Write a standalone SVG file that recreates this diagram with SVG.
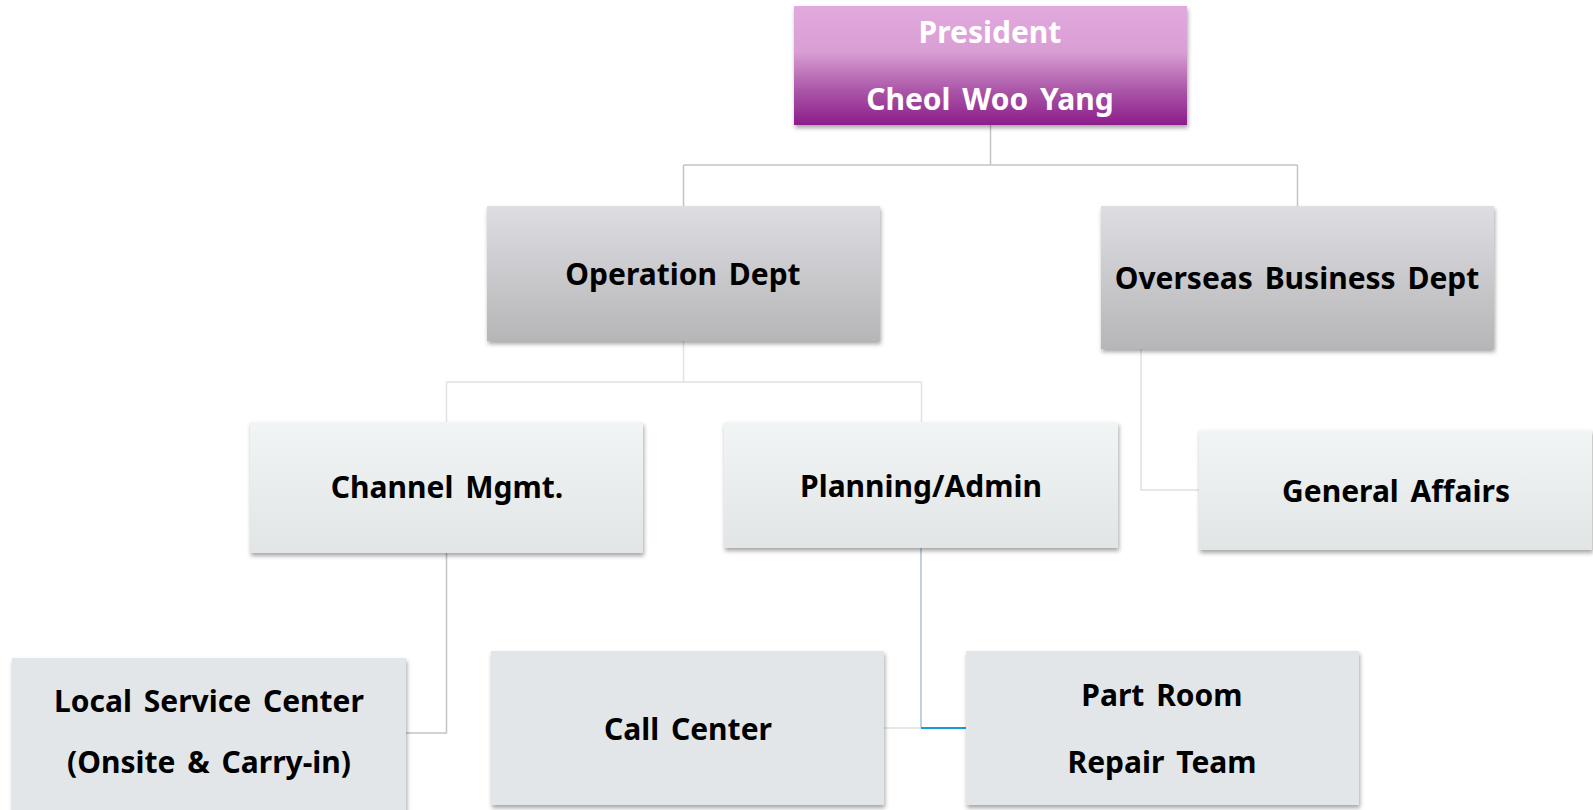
<svg xmlns="http://www.w3.org/2000/svg" width="1593" height="810" viewBox="0 0 1593 810">
<defs>
<linearGradient id="gPres" x1="0" y1="0" x2="0" y2="1">
<stop offset="0" stop-color="#e2a9de"/>
<stop offset="0.38" stop-color="#d99fd5"/>
<stop offset="0.72" stop-color="#a954a6"/>
<stop offset="1" stop-color="#8e1c8b"/>
</linearGradient>
<linearGradient id="gDept" x1="0" y1="0" x2="0" y2="1">
<stop offset="0" stop-color="#dedde2"/>
<stop offset="1" stop-color="#b6b6b8"/>
</linearGradient>
<linearGradient id="gTeam" x1="0" y1="0" x2="0" y2="1">
<stop offset="0" stop-color="#f1f5f5"/>
<stop offset="1" stop-color="#e2e5e6"/>
</linearGradient>
<filter id="sh" x="-5%" y="-10%" width="112%" height="130%">
<feDropShadow dx="1" dy="3" stdDeviation="2" flood-color="#000" flood-opacity="0.35"/>
</filter>
<style>
.t{font-family:"Noto Sans","Open Sans",sans-serif;font-weight:bold;font-size:30px;word-spacing:4px;text-anchor:middle;fill:#000}
.w{fill:#fff}
.c{fill:none;stroke:#c4c4c4;stroke-width:1.5}
.cl{fill:none;stroke:#dfe2e2;stroke-width:1.5}
</style>
</defs>
<g id="connectors">
<path class="c" d="M990.5 125V165M683.5 165H1297.5M683.5 165V206M1297.5 165V206"/>
<path class="cl" d="M683.5 341V382M446.5 382H921.5M446.5 382V422M921.5 382V422"/>
<path class="cl" d="M1141 349V490H1199"/>
<path class="c" d="M446.5 553V733H406"/>
<path fill="none" stroke="#a9c3d0" stroke-width="1.5" d="M921 548V728"/>
<path class="cl" d="M884 728H921"/>
<path fill="none" stroke="#1a9ad8" stroke-width="2" d="M921 728H966"/>
</g>
<g id="president">
<rect x="794" y="6" width="393" height="119" fill="url(#gPres)" filter="url(#sh)"/>
<text class="t w" x="990" y="43">President</text>
<text class="t w" x="990" y="110">Cheol Woo Yang</text>
</g>
<g id="operation">
<rect x="487" y="206" width="393" height="135" fill="url(#gDept)" filter="url(#sh)"/>
<text class="t" x="683" y="285">Operation Dept</text>
</g>
<g id="overseas">
<rect x="1101" y="206" width="393" height="143" fill="url(#gDept)" filter="url(#sh)"/>
<text class="t" x="1297" y="289">Overseas Business Dept</text>
</g>
<g id="channel">
<rect x="250" y="422" width="393" height="131" fill="url(#gTeam)" filter="url(#sh)"/>
<text class="t" x="447" y="498">Channel Mgmt.</text>
</g>
<g id="planning">
<rect x="724" y="422" width="394" height="126" fill="url(#gTeam)" filter="url(#sh)"/>
<text class="t" x="921" y="497">Planning/Admin</text>
</g>
<g id="general">
<rect x="1199" y="430" width="393" height="120" fill="url(#gTeam)" filter="url(#sh)"/>
<text class="t" x="1396" y="502">General Affairs</text>
</g>
<g id="local">
<rect x="12" y="658" width="394" height="160" fill="#e3e6e8" filter="url(#sh)"/>
<text class="t" x="209" y="712">Local Service Center</text>
<text class="t" x="209" y="773">(Onsite &amp; Carry-in)</text>
</g>
<g id="callcenter">
<rect x="491" y="651" width="393" height="154" fill="#e3e6e8" filter="url(#sh)"/>
<text class="t" x="688" y="740">Call Center</text>
</g>
<g id="partroom">
<rect x="966" y="651" width="393" height="154" fill="#e3e6e8" filter="url(#sh)"/>
<text class="t" x="1162" y="706">Part Room</text>
<text class="t" x="1162" y="773">Repair Team</text>
</g>
</svg>
